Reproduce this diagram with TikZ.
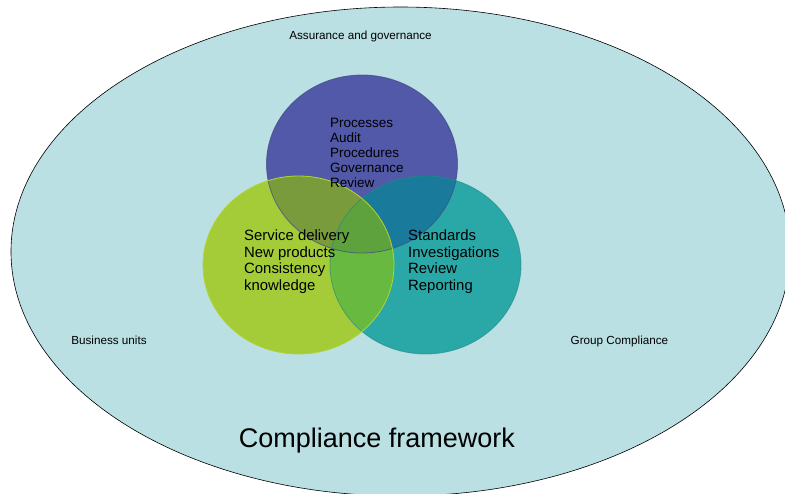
\documentclass[tikz,border=0pt]{standalone}
\usepackage{fontspec}
\setmainfont{Liberation Sans}
\usetikzlibrary{shapes.geometric}

\definecolor{frameFill}{RGB}{186,224,227}
\definecolor{govBlue}{RGB}{81,89,168}
\definecolor{standardTeal}{RGB}{42,168,168}
\definecolor{deliveryGreen}{RGB}{163,204,56}
\definecolor{govDelivery}{RGB}{122,155,60}
\definecolor{govStandard}{RGB}{25,122,155}
\definecolor{deliveryStandard}{RGB}{104,185,64}
\definecolor{allThree}{RGB}{94,162,62}

\begin{document}
\begin{tikzpicture}[x=1pt, y=-1pt, x radius=95.5, y radius=89,
        venn/.style={
            ellipse, minimum width=191pt, minimum height=178pt
        },
        setText/.style={
            anchor=north west, align=left, inner sep=0pt
        },
        areaTag/.style={
            anchor=base, inner sep=0pt, font=\fontsize{11.7}{14}\selectfont
        },
    ]
    \useasboundingbox (0,0) rectangle (785,493);
    \clip (0,0) rectangle (785,493);

    \node (frame) [ellipse, draw, fill=frameFill, line width=0.6pt, minimum width=779pt, minimum height=489pt] at (400.5,251.5) {};

    % the three sets
    \node (govSet) [venn, fill=govBlue] at (362,164) {};
    \node (standardSet) [venn, fill=standardTeal] at (425.5,265) {};
    \node (deliverySet) [venn, fill=deliveryGreen] at (298.5,265) {};

    % overlaps
    \begin{scope}
        \clip (govSet.center) ellipse;
        \fill [govDelivery] (deliverySet.center) ellipse;
        \fill [govStandard] (standardSet.center) ellipse;
    \end{scope}
    \begin{scope}
        \clip (deliverySet.center) ellipse;
        \fill [deliveryStandard] (standardSet.center) ellipse;
        \clip (govSet.center) ellipse;
        \fill [allThree] (standardSet.center) ellipse;
    \end{scope}

    % rims, green one on top
    \draw [govBlue!80!black, draw opacity=0.7, line width=0.8pt] (govSet.center) ellipse;
    \draw [standardTeal!80!black, draw opacity=0.6, line width=0.8pt] (standardSet.center) ellipse;
    \draw [deliveryGreen!85!yellow, line width=0.8pt] (deliverySet.center) ellipse;

    \node (govText) [setText, font=\fontsize{13.5}{15.1}\selectfont] at (330,118) {Processes\\Audit\\Procedures\\Governance\\Review};
    \node (deliveryText) [setText, font=\fontsize{14.9}{16.7}\selectfont] at (244,229.5) {Service delivery\\New products\\Consistency\\knowledge};
    \node (standardText) [setText, font=\fontsize{14.9}{16.7}\selectfont] at (408,229.5) {Standards\\Investigations\\Review\\Reporting};

    \node (assurance) [areaTag] at (360.5,39.3) {Assurance and governance};
    \node (business) [areaTag] at (109,344.3) {Business units};
    \node (group) [areaTag] at (619.5,344.3) {Group Compliance};

    \node (title) [anchor=base, inner sep=0pt, font=\fontsize{27}{31}\selectfont] at (377,447) {Compliance framework};
\end{tikzpicture}
\end{document}
